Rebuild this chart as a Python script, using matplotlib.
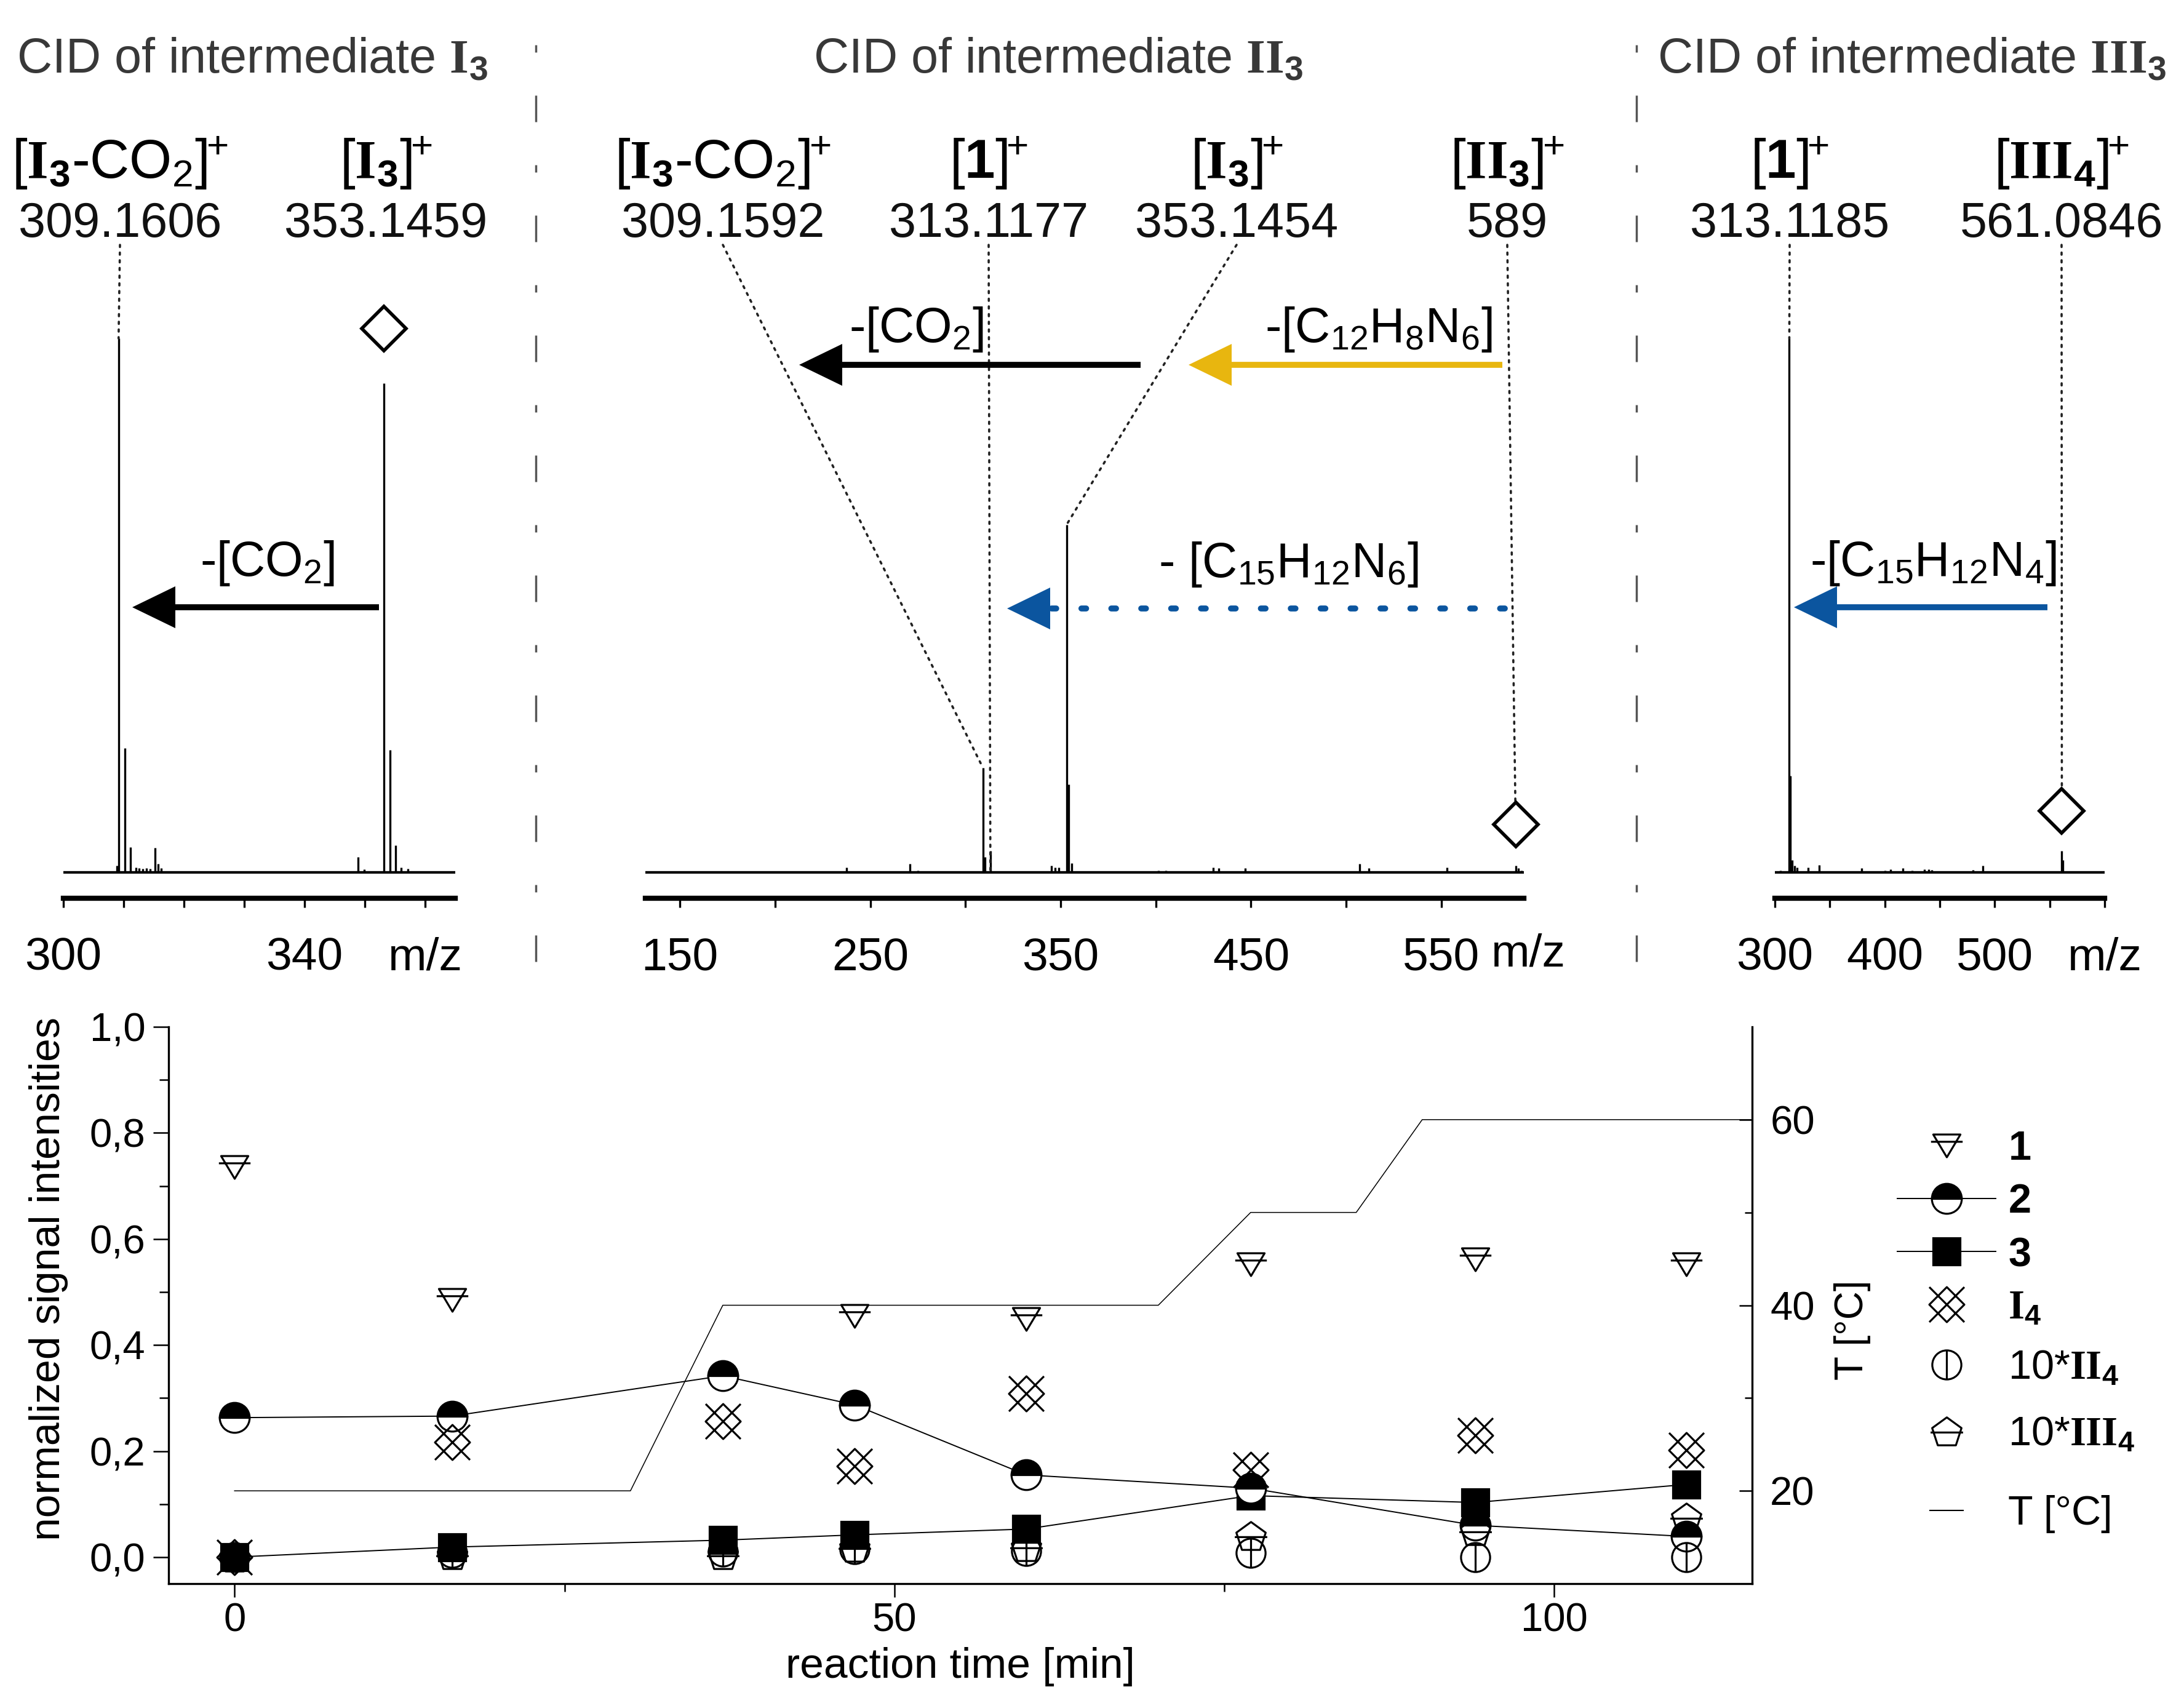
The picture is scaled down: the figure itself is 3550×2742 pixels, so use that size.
import numpy as np
import matplotlib
matplotlib.use("Agg")
import matplotlib.pyplot as plt
from matplotlib.path import Path
from matplotlib.lines import Line2D
from matplotlib.patches import Polygon, ConnectionPatch
from matplotlib.ticker import FixedLocator, FuncFormatter

plt.rcParams["font.family"] = ["Liberation Sans", "DejaVu Sans"]
plt.rcParams["mathtext.fontset"] = "custom"
plt.rcParams["mathtext.rm"] = "Liberation Sans"
plt.rcParams["mathtext.it"] = "Liberation Sans:italic"
plt.rcParams["mathtext.bf"] = "Liberation Serif:bold"
plt.rcParams["mathtext.sf"] = "Liberation Sans:bold"
plt.rcParams["lines.scale_dashes"] = False

W, H = 3550, 2742

# ---- CID spectra: m/z and relative intensity (tallest peak = 1)
cid1_mz = [308.9, 309.16, 310.16, 311.17, 312.0, 312.6, 313.2, 313.8, 314.4, 315.2, 315.7,
           316.2, 348.9, 349.9, 353.15, 354.15, 355.15, 356.0, 357.1]
cid1_int = [0.015, 1.0, 0.234, 0.05, 0.012, 0.01, 0.009, 0.01, 0.009, 0.048, 0.018,
            0.01, 0.031, 0.008, 0.916, 0.231, 0.053, 0.012, 0.009]
cid2_mz = [185.3, 237.4, 258.9, 270.7, 275.0, 303.4, 309.16, 310.16, 313.12, 345.0, 347.0,
           349.0, 353.15, 354.15, 355.9, 401.3, 405.2, 415.8, 430.0, 433.0, 447.0, 457.0,
           463.0, 469.0, 507.0, 512.0, 534.0, 546.0, 553.0, 589.0, 590.5, 592.0]
cid2_int = [0.004, 0.012, 0.005, 0.018, 0.006, 0.004, 0.198, 0.031, 0.042, 0.015, 0.012,
            0.011, 0.652, 0.167, 0.02, 0.006, 0.006, 0.005, 0.012, 0.01, 0.01, 0.005,
            0.005, 0.005, 0.018, 0.01, 0.004, 0.005, 0.011, 0.0145, 0.01, 0.006]
cid3_mz = [302.0, 305.0, 308.0, 313.12, 314.12, 315.4, 317.9, 320.4, 330.4, 340.4, 347.9,
           379.1, 400.3, 405.3, 416.5, 421.0, 425.0, 428.0, 436.0, 440.0, 443.0, 480.2,
           489.3, 534.7, 561.08, 562.08]
cid3_int = [0.005, 0.006, 0.005, 1.0, 0.183, 0.025, 0.015, 0.012, 0.012, 0.016, 0.005,
            0.01, 0.006, 0.008, 0.01, 0.005, 0.006, 0.005, 0.008, 0.008, 0.007, 0.007,
            0.0145, 0.005, 0.042, 0.025]

# precursor ion (diamond) of each spectrum
cid1_prec = [353.15, 1.018]
cid2_prec = [589.0, 0.092]
cid3_prec = [561.08, 0.117]

cid1_ticks = [300, 310, 320, 330, 340, 350, 360]
cid1_ticklabels = ["300", "", "", "", "340", "", "m/z"]
cid2_ticks = [150, 200, 250, 300, 350, 400, 450, 500, 550]
cid2_ticklabels = ["150", "", "250", "", "350", "", "450", "", "550"]
cid3_ticks = [300, 350, 400, 450, 500, 550, 600]
cid3_ticklabels = ["300", "", "400", "", "500", "", "m/z"]

titles = [r"CID of intermediate $\mathbf{I}_\mathsf{3}$",
          r"CID of intermediate $\mathbf{II}_\mathsf{3}$",
          r"CID of intermediate $\mathbf{III}_\mathsf{3}$"]

# ion labels, masses and the peak each one points to (m/z, intensity)
SUP = r"$^{\!\!+}$"
ion_names = [r"[$\mathbf{I}_\mathsf{3}$-CO$_2$]" + SUP, r"[$\mathbf{I}_\mathsf{3}$]" + SUP,
             r"[$\mathbf{I}_\mathsf{3}$-CO$_2$]" + SUP, r"[$\mathsf{1}$]" + SUP,
             r"[$\mathbf{I}_\mathsf{3}$]" + SUP, r"[$\mathbf{II}_\mathsf{3}$]" + SUP,
             r"[$\mathsf{1}$]" + SUP, r"[$\mathbf{III}_\mathsf{4}$]" + SUP]
ion_masses = ["309.1606", "353.1459", "309.1592", "313.1177", "353.1454", "589",
              "313.1185", "561.0846"]
ion_panel = [0, 0, 1, 1, 1, 1, 2, 2]
ion_peak_mz = [309.16, 353.15, 309.16, 313.12, 353.15, 589.0, 313.12, 561.08]
ion_peak_int = [1.0, 1.018, 0.198, 0.0, 0.652, 0.092, 1.0, 0.117]

losses = [r"-[CO$_2$]", r"-[CO$_2$]", r"-[C$_{12}$H$_8$N$_6$]",
          r"- [C$_{15}$H$_{12}$N$_6$]", r"-[C$_{15}$H$_{12}$N$_4$]"]

# ---- time course of the reaction
t_min = [0, 16.5, 37, 47, 60, 77, 94, 110]
c1 = [0.735, 0.485, np.nan, 0.455, 0.449, 0.552, 0.562, 0.552]
c2 = [0.263, 0.266, 0.342, 0.287, 0.155, 0.130, 0.060, 0.039]
c3 = [0.0, 0.019, 0.032, 0.042, 0.053, 0.116, 0.103, 0.137]
cI4 = [0.0, 0.217, 0.256, 0.172, 0.308, 0.165, 0.230, 0.202]
cII4 = [0.0, 0.008, 0.010, 0.015, 0.012, 0.008, 0.0, 0.0]
cIII4 = [0.0, 0.004, 0.005, 0.018, 0.020, 0.040, 0.050, 0.075]
temp_t = [0, 30, 37, 70, 77, 85, 90, 115]
temp_c = [20, 20, 40, 40, 50, 50, 60, 60]

GOLD = "#E8B60F"
BLUE = "#0B559F"
GREY = "#555555"


def fxy(x, y):
    # pixel (top-left origin) -> figure fraction
    return (x / W, 1.0 - y / H)


def rect(l, t, r, b):
    return [l / W, 1.0 - b / H, (r - l) / W, (b - t) / H]


fig = plt.figure(figsize=(W / 100, H / 100), dpi=100)


def spectrum_panel(box, mz, inten, xlim, ticks, ticklabels, prec):
    ax = fig.add_axes(box)
    ax.set_xlim(*xlim)
    ax.set_ylim(0, 1)
    ax.patch.set_visible(False)
    ax.vlines(mz, 0, inten, color="k", lw=2.4)
    ax.axhline(0, color="k", lw=6, solid_capstyle="butt")
    for s in ("left", "right", "top"):
        ax.spines[s].set_visible(False)
    ax.spines["bottom"].set_position(("outward", 28.8))
    ax.spines["bottom"].set_linewidth(6)
    ax.set_yticks([])
    ax.set_xticks(ticks)
    ax.set_xticklabels(ticklabels)
    ax.tick_params(axis="x", direction="out", length=11, width=2.4, labelsize=54, pad=34)
    ax.plot([prec[0]], [prec[1]], marker="D", ms=37, mfc="white", mec="k", mew=4,
            ls="none", clip_on=False, zorder=6)
    return ax


spec_axes = [
    spectrum_panel(rect(103, 550, 740, 1420), cid1_mz, cid1_int, (300, 365),
                   cid1_ticks, cid1_ticklabels, cid1_prec),
    spectrum_panel(rect(1049, 550, 2477, 1420), cid2_mz, cid2_int, (131.9, 593.3),
                   cid2_ticks, cid2_ticklabels, cid2_prec),
    spectrum_panel(rect(2885, 550, 3421, 1420), cid3_mz, cid3_int, (300, 600),
                   cid3_ticks, cid3_ticklabels, cid3_prec),
]
fig.text(*fxy(2484, 1551), "m/z", fontsize=54, ha="center", va="center")

# panel titles
for txt, x0 in zip(titles, [27, 1322, 2694]):
    fig.text(*fxy(x0, 118), txt, fontsize=57, color="#383838", ha="left", va="baseline")

# ion labels with dotted leaders to their peaks
label_x = [195, 627, 1175, 1607, 2010, 2450, 2909, 3351]
for name, mass, p, mz, iy, x0 in zip(ion_names, ion_masses, ion_panel, ion_peak_mz,
                                       ion_peak_int, label_x):
    fig.text(*fxy(x0, 290), name, fontsize=64, ha="center", va="baseline")
    fig.text(*fxy(x0, 385), mass, fontsize=57, ha="center", va="baseline", color="#111111")
    con = ConnectionPatch(xyA=fxy(x0, 398), coordsA="figure fraction",
                          xyB=(mz, iy), coordsB="data", axesA=spec_axes[p],
                          axesB=spec_axes[p], color="#222222", lw=2.6,
                          ls=(0, (2.5, 6.5)), zorder=3, clip_on=False)
    spec_axes[p].add_artist(con)


def arrow(x_tail, x_tip, y, color, dotted=False):
    head_len, head_half = 70, 34
    line = Line2D([x_tail / W, (x_tip + head_len - 2) / W], [1 - y / H, 1 - y / H],
                  transform=fig.transFigure, color=color, lw=7)
    if dotted:
        line.set_dashes((5.5, 29.5))
        line.set_dash_capstyle("round")
    else:
        line.set_solid_capstyle("butt")
    fig.add_artist(line)
    fig.add_artist(Polygon([fxy(x_tip, y), fxy(x_tip + head_len, y - head_half),
                            fxy(x_tip + head_len, y + head_half)],
                           closed=True, transform=fig.transFigure, color=color, lw=0))


arrow(616, 215, 987, "k")
arrow(1854, 1299, 593, "k")
arrow(2442, 1932, 593, GOLD)
arrow(2446, 1637, 989, BLUE, dotted=True)
arrow(3328, 2916, 987, BLUE)

for txt, (x0, y0) in zip(losses, [(435, 936), (1490, 556), (2241, 556), (2094, 938),
                                   (3142, 936)]):
    fig.text(*fxy(x0, y0), txt, fontsize=57, ha="center", va="baseline")

# dash-dot separators between the spectra
for xs in (871, 2660):
    sep = Line2D([xs / W, xs / W], [1 - 73 / H, 1 - 1590 / H], transform=fig.transFigure,
                 color=GREY, lw=2.5)
    sep.set_dashes((8.6, 50.4, 31, 50.4))
    fig.add_artist(sep)

# ---- time course
ax = fig.add_axes(rect(274, 1669, 2848, 2574))
ax2 = ax.twinx()
ax.set_zorder(ax2.get_zorder() + 1)
ax.patch.set_visible(False)

ax2.plot(temp_t, temp_c, color="k", lw=1.1)
ax2.set_ylim(10, 70)

tri_bar = Path([(-0.86, 0.72), (0.86, 0.72), (0.0, -0.72), (-0.86, 0.72),
                (-1.0, 0.26), (1.0, 0.26)],
               [Path.MOVETO, Path.LINETO, Path.LINETO, Path.CLOSEPOLY, Path.MOVETO, Path.LINETO])
ang = np.deg2rad([90, 162, 234, 306, 18])
pent = np.column_stack([0.95 * np.cos(ang), 0.95 * np.sin(ang) - 0.09])
pent_bar = Path(list(map(tuple, pent)) + [tuple(pent[0]), (-1.0, -0.07), (1.0, -0.07)],
                [Path.MOVETO] + [Path.LINETO] * 4 + [Path.CLOSEPOLY, Path.MOVETO, Path.LINETO])
circ_vbar = Path.make_compound_path(Path.unit_circle(),
                                    Path([(0, -1), (0, 1)], [Path.MOVETO, Path.LINETO]))
x_diamond = Path([(-1, -1), (1, 1), (-1, 1), (1, -1),
                  (0, 1), (1, 0), (0, -1), (-1, 0), (0, 1)],
                 [Path.MOVETO, Path.LINETO, Path.MOVETO, Path.LINETO,
                  Path.MOVETO, Path.LINETO, Path.LINETO, Path.LINETO, Path.CLOSEPOLY])

mew = 2.3
h3, = ax.plot(t_min, c3, color="k", lw=1.4, marker="s", ms=31, mfc="k", mec="k", mew=mew)
h2, = ax.plot(t_min, c2, color="k", lw=1.4, marker="o", ms=35, fillstyle="top",
              mfc="k", mfcalt="white", mec="k", mew=mew)
hI4, = ax.plot(t_min, cI4, ls="none", marker=x_diamond, ms=41, mfc="none", mec="k", mew=mew)
hII4, = ax.plot(t_min, cII4, ls="none", marker=circ_vbar, ms=34, mfc="none", mec="k", mew=mew)
hIII4, = ax.plot(t_min, cIII4, ls="none", marker=pent_bar, ms=38, mfc="none", mec="k", mew=mew)
h1, = ax.plot(t_min, c1, ls="none", marker=tri_bar, ms=37, mfc="white", mec="k", mew=mew)

ax.set_xlim(-5, 115)
ax.set_ylim(-0.05, 1.0)
ax.xaxis.set_major_locator(FixedLocator([0, 50, 100]))
ax.xaxis.set_minor_locator(FixedLocator([25, 75]))
ax.yaxis.set_major_locator(FixedLocator([0, 0.2, 0.4, 0.6, 0.8, 1.0]))
ax.yaxis.set_minor_locator(FixedLocator([0.1, 0.3, 0.5, 0.7, 0.9]))
ax.yaxis.set_major_formatter(FuncFormatter(lambda v, _: f"{v:.1f}".replace(".", ",")))
ax.spines["top"].set_visible(False)
ax2.spines["top"].set_visible(False)
for s in ("left", "bottom"):
    ax.spines[s].set_linewidth(2.4)
ax2.spines["right"].set_linewidth(2.4)
ax.tick_params(axis="x", which="major", direction="out", length=16, width=1.8,
               labelsize=47, pad=6)
ax.tick_params(axis="x", which="minor", direction="out", length=9, width=1.8)
ax.tick_params(axis="y", which="major", direction="out", length=18, width=1.8,
               labelsize=47, pad=9)
ax.tick_params(axis="y", which="minor", direction="out", length=11, width=1.8)
ax2.yaxis.set_major_locator(FixedLocator([20, 40, 60]))
ax2.yaxis.set_minor_locator(FixedLocator([30, 50]))
ax2.tick_params(axis="y", which="major", direction="in", length=15, width=1.8,
                labelsize=47, pad=21)
ax2.tick_params(axis="y", which="minor", direction="in", length=9, width=1.8)

ax.set_xlabel("reaction time [min]", fontsize=50, va="baseline")
ax.xaxis.set_label_coords(0.5, -0.169)
ax.set_ylabel("normalized signal intensities", fontsize=49, va="center", ha="center")
ax.yaxis.set_label_coords(-0.0758, 0.548)
ax2.set_ylabel("T [°C]", fontsize=46, rotation=90, va="center", ha="center")
ax2.yaxis.set_label_coords(1.0633, 0.455)

# legend in blocks, since the original spaces its rows unevenly
hT = Line2D([], [], ls="none", marker="_", ms=41, mew=1.5, color="k")
leg_kw = dict(loc="upper left", bbox_transform=fig.transFigure, frameon=False,
              fontsize=48, handlelength=2.4, handletextpad=0.3,
              borderpad=0, borderaxespad=0, numpoints=1)
leg_a = ax.legend([h1, h2, h3, hI4],
                  [r"$\mathsf{1}$", r"$\mathsf{2}$", r"$\mathsf{3}$",
                   r"$\mathbf{I}_\mathsf{4}$"],
                  bbox_to_anchor=fxy(3084, 1837), labelspacing=0.36, **leg_kw)
ax.add_artist(leg_a)
leg_b = ax.legend([hII4, hIII4],
                  [r"10*$\mathbf{II}_\mathsf{4}$", r"10*$\mathbf{III}_\mathsf{4}$"],
                  bbox_to_anchor=fxy(3084, 2193), labelspacing=0.69, **leg_kw)
ax.add_artist(leg_b)
ax.legend([hT], ["T [°C]"], bbox_to_anchor=fxy(3084, 2430), **leg_kw)

fig.savefig("out.png", dpi=100)
